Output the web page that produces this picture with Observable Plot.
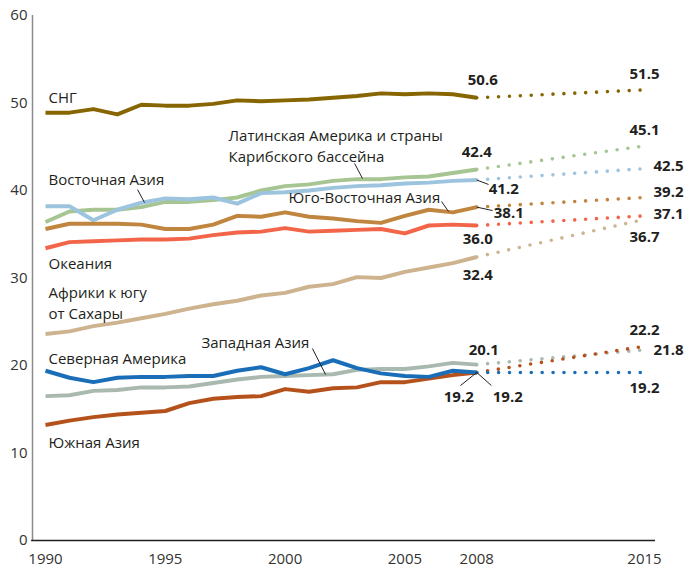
<!DOCTYPE html>
<html>
<head>
<meta charset="utf-8">
<script src="https://cdn.jsdelivr.net/npm/d3@7"></script>
<script src="https://cdn.jsdelivr.net/npm/@observablehq/plot@0.6"></script>
<style>
  html, body { margin: 0; padding: 0; background: #fff; }
  #chart { width: 696px; height: 568px; }
</style>
</head>
<body>
<div id="chart"></div>
<script>
// ---- data ----
const years = [1990, 1991, 1992, 1993, 1994, 1995, 1996, 1997, 1998, 1999, 2000, 2001, 2002, 2003, 2004, 2005, 2006, 2007, 2008];
const xTicks = [1990, 1995, 2000, 2005, 2008, 2015];
const yTicks = [0, 10, 20, 30, 40, 50, 60];

const cis     = [48.9, 48.9, 49.3, 48.7, 49.8, 49.7, 49.7, 49.9, 50.3, 50.2, 50.3, 50.4, 50.6, 50.8, 51.1, 51.0, 51.1, 51.0, 50.6];
const latam   = [36.4, 37.6, 37.8, 37.8, 38.1, 38.7, 38.7, 38.9, 39.2, 40.0, 40.5, 40.7, 41.1, 41.3, 41.3, 41.5, 41.6, 42.0, 42.4];
const easia   = [38.2, 38.2, 36.6, 37.8, 38.6, 39.1, 39.0, 39.2, 38.5, 39.7, 39.8, 40.0, 40.3, 40.5, 40.6, 40.8, 40.9, 41.1, 41.2];
const seasia  = [35.6, 36.2, 36.2, 36.2, 36.1, 35.6, 35.6, 36.1, 37.1, 37.0, 37.5, 37.0, 36.8, 36.5, 36.3, 37.1, 37.8, 37.5, 38.1];
const oceania = [33.4, 34.1, 34.2, 34.3, 34.4, 34.4, 34.5, 34.9, 35.2, 35.3, 35.7, 35.3, 35.4, 35.5, 35.6, 35.1, 36.0, 36.1, 36.0];
const africa  = [23.6, 23.9, 24.5, 24.9, 25.4, 25.9, 26.5, 27.0, 27.4, 28.0, 28.3, 29.0, 29.3, 30.1, 30.0, 30.7, 31.2, 31.7, 32.4];
const wasia   = [16.5, 16.6, 17.1, 17.2, 17.5, 17.5, 17.6, 18.0, 18.4, 18.7, 18.8, 18.9, 19.0, 19.5, 19.6, 19.6, 19.9, 20.3, 20.1];
const nam     = [19.4, 18.6, 18.1, 18.6, 18.7, 18.7, 18.8, 18.8, 19.4, 19.8, 19.0, 19.7, 20.6, 19.7, 19.1, 18.8, 18.7, 19.4, 19.2];
const sasia   = [13.2, 13.7, 14.1, 14.4, 14.6, 14.8, 15.7, 16.2, 16.4, 16.5, 17.3, 17.0, 17.4, 17.5, 18.1, 18.1, 18.5, 18.9, 19.2];

// projected 2015 values
const proj2015 = {cis: 51.5, latam: 45.1, easia: 42.5, seasia: 39.2, oceania: 37.1, africa: 36.7, wasia: 21.8, nam: 19.2, sasia: 22.2};

// ---- series styling ----
const series = [
  {key: "cis",     values: cis,     color: "#876500"},
  {key: "latam",   values: latam,   color: "#a6c592"},
  {key: "easia",   values: easia,   color: "#9cc4de"},
  {key: "seasia",  values: seasia,  color: "#c0853f"},
  {key: "oceania", values: oceania, color: "#f26549"},
  {key: "africa",  values: africa,  color: "#cdb48f"},
  {key: "wasia",   values: wasia,   color: "#a9b9af"},
  {key: "sasia",   values: sasia,   color: "#b5521c"},
  {key: "nam",     values: nam,     color: "#1a6eb8"}
];

// value-label offsets (pixels) relative to the 2008 / 2015 points
const labelOffsets = {
  cis:     {a: [6, -18],  b: [0, -16]},
  latam:   {a: [0, -17],  b: [0, -16]},
  easia:   {a: [27, 9.5], b: [24, -2]},
  seasia:  {a: [32, 6],   b: [24, -5]},
  oceania: {a: [1, 14],   b: [24, -2]},
  africa:  {a: [1, 18.5], b: [0, 18]},
  wasia:   {a: [7, -14],  b: [24, 0]},
  nam:     {a: [31, 25],  b: [0, 16]},
  sasia:   {a: [-18, 25], b: [0, -16]}
};

// region name annotations (data coordinates), one entry per text line
const nameLabels = [
  {text: "СНГ", x: 1990.125, y: 50.5},
  {text: "Латинская Америка и страны", x: 1997.64, y: 46.21},
  {text: "Карибского бассейна", x: 1997.64, y: 43.85},
  {text: "Восточная Азия", x: 1990.125, y: 41.14},
  {text: "Юго-Восточная Азия", x: 2000.14, y: 39.09},
  {text: "Океания", x: 1990.125, y: 31.54},
  {text: "Африки к югу", x: 1990.125, y: 28.26},
  {text: "от Сахары", x: 1990.125, y: 25.91},
  {text: "Западная Азия", x: 1996.51, y: 22.51},
  {text: "Северная Америка", x: 1990.125, y: 20.69},
  {text: "Южная Азия", x: 1990.125, y: 11.09}
];

const leaders = [
  {x1: 2002.90, y1: 43.09, x2: 2003.23, y2: 41.37},
  {x1: 1993.84, y1: 40.11, x2: 1994.13, y2: 38.63},
  {x1: 2006.53, y1: 38.74, x2: 2006.82, y2: 37.60},
  {x1: 2001.14, y1: 21.94, x2: 2001.69, y2: 18.97},
  {x1: 2008.00, y1: 41.20, x2: 2008.49, y2: 40.69},
  {x1: 2008.00, y1: 38.10, x2: 2008.66, y2: 37.71},
  {x1: 2007.32, y1: 17.71, x2: 2008.00, y2: 19.20},
  {x1: 2008.00, y1: 19.20, x2: 2008.61, y2: 17.71}
];

const ink = "#231f20";
const marks = [];

// axes
marks.push(Plot.ruleX([1990], {y1: 0, y2: 60, dx: -13, stroke: "#8a8a8a", strokeWidth: 1.5}));
marks.push(Plot.axisY({ticks: yTicks, tickSize: 0, tickPadding: 18, fontSize: 15, fill: "#333"}));
marks.push(Plot.axisX({ticks: xTicks, tickSize: 0, tickPadding: 13, fontSize: 15, fill: "#333", tickFormat: d => String(d)}));

// lines
for (const s of series) {
  const solid = years.map((y, i) => ({year: y, value: s.values[i]}));
  marks.push(Plot.line(solid, {x: "year", y: "value", stroke: s.color, strokeWidth: 4, strokeLinecap: "butt", strokeLinejoin: "round"}));
}
for (const s of series) {
  const last = s.values[s.values.length - 1];
  const dotted = [{year: 2008, value: last}, {year: 2015, value: proj2015[s.key]}];
  marks.push(Plot.line(dotted, {x: "year", y: "value", stroke: s.color, strokeWidth: 3.6, strokeLinecap: "round", strokeDasharray: "0 10.9"}));
}

marks.push(Plot.ruleY([0], {x1: 1989.42, x2: 2015.46, stroke: ink, strokeWidth: 1.5}));

// leaders
marks.push(Plot.link(leaders, {x1: "x1", y1: "y1", x2: "x2", y2: "y2", stroke: ink, strokeWidth: 1}));

// names
marks.push(Plot.text(nameLabels, {x: "x", y: "y", text: "text", textAnchor: "start", fontSize: 15, fill: ink}));

// values
for (const s of series) {
  const last = s.values[s.values.length - 1];
  const o = labelOffsets[s.key];
  marks.push(Plot.text([{year: 2008, value: last}], {x: "year", y: "value", text: d => d.value.toFixed(1), dx: o.a[0], dy: o.a[1], fontSize: 15, fontWeight: "bold", fill: ink}));
  marks.push(Plot.text([{year: 2015, value: proj2015[s.key]}], {x: "year", y: "value", text: d => d.value.toFixed(1), dx: o.b[0], dy: o.b[1], fontSize: 15, fontWeight: "bold", fill: ink}));
}

const chart = Plot.plot({
  width: 696,
  height: 568,
  marginLeft: 45,
  marginRight: 52,
  marginTop: 15,
  marginBottom: 28,
  x: {domain: [1990, 2015], axis: null},
  y: {domain: [0, 60], axis: null},
  style: {fontFamily: "'Open Sans', sans-serif", fontSize: "15px", color: ink, background: "#fff"},
  marks
});
document.getElementById("chart").appendChild(chart);
</script>
</body>
</html>
